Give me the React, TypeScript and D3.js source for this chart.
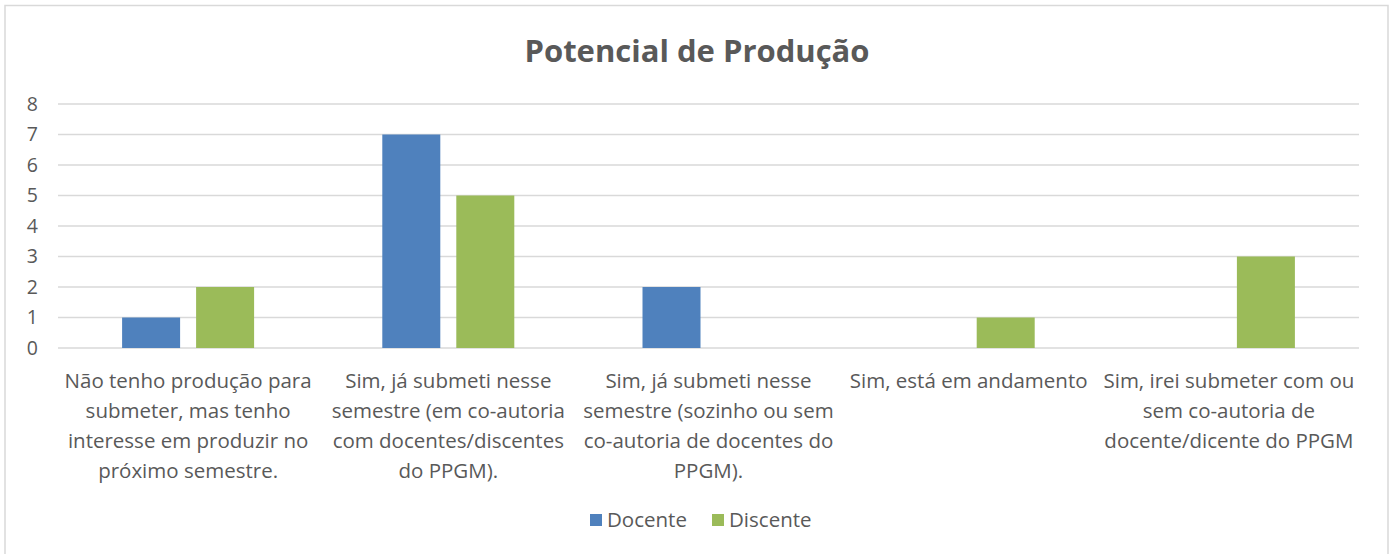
import React from "react";
import * as d3 from "d3";

const categories: string[][] = [
  ["Não tenho produção para", "submeter, mas tenho", "interesse em produzir no", "próximo semestre."],
  ["Sim, já submeti nesse", "semestre (em co-autoria", "com docentes/discentes", "do PPGM)."],
  ["Sim, já submeti nesse", "semestre (sozinho ou sem", "co-autoria de docentes do", "PPGM)."],
  ["Sim, está em andamento"],
  ["Sim, irei submeter com ou", "sem co-autoria de", "docente/dicente do PPGM"],
];
const docente = [1, 7, 2, 0, 0];
const discente = [2, 5, 0, 1, 3];
const seriesNames = ["Docente", "Discente"];
const yTicks = [0, 1, 2, 3, 4, 5, 6, 7, 8];

const W = 1394;
const H = 554;
const colors = ["#4F81BD", "#9BBB59"];
const FONT = "'Open Sans', sans-serif";
const TXT = "#595959";

export default function App() {
  const plotL = 58, plotR = 1359, plotT = 104, plotB = 348;
  const x0 = d3.scaleBand<number>().domain(d3.range(categories.length)).range([plotL, plotR]);
  const y = d3.scaleLinear().domain([0, 8]).range([plotB, plotT]);
  const barW = 58, gap = 16;
  const series = [docente, discente];

  return (
    <svg width={W} height={H} style={{ position: "absolute", left: 0, top: 0, background: "#fff" }}>
      <rect x={5} y={5.5} width={1383} height={600} fill="#fff" stroke="#d9d9d9" strokeWidth={1.5} />
      <text x={697} y={62} textAnchor="middle" fontFamily={FONT} fontWeight={700} fontSize={31} fill={TXT}>
        Potencial de Produção
      </text>
      {yTicks.map((t) => (
        <g key={t}>
          <line x1={plotL} x2={plotR} y1={y(t)} y2={y(t)} stroke="#d9d9d9" strokeWidth={1.5} />
          <text x={38} y={y(t) + 6.5} textAnchor="end" fontFamily={FONT} fontSize={19.5} fill={TXT}>
            {t}
          </text>
        </g>
      ))}
      {series.map((vals, si) =>
        vals.map((v, i) => {
          if (!v) return null;
          const cx = x0(i)! + x0.bandwidth() / 2;
          const bx = si === 0 ? cx - gap / 2 - barW : cx + gap / 2;
          return <rect key={si + "-" + i} x={bx} y={y(v)} width={barW} height={y(0) - y(v)} fill={colors[si]} />;
        })
      )}
      {categories.map((lines, i) => {
        const cx = x0(i)! + x0.bandwidth() / 2;
        return (
          <text key={i} textAnchor="middle" fontFamily={FONT} fontSize={20.5} fill={TXT}>
            {lines.map((l, j) => (
              <tspan key={j} x={cx} y={388 + j * 30}>
                {l}
              </tspan>
            ))}
          </text>
        );
      })}
      <g fontFamily={FONT} fontSize={20.5} fill={TXT}>
        <rect x={590} y={514} width={12} height={12} fill={colors[0]} />
        <text x={607} y={527}>{seriesNames[0]}</text>
        <rect x={712} y={514} width={12} height={12} fill={colors[1]} />
        <text x={729} y={527}>{seriesNames[1]}</text>
      </g>
    </svg>
  );
}
